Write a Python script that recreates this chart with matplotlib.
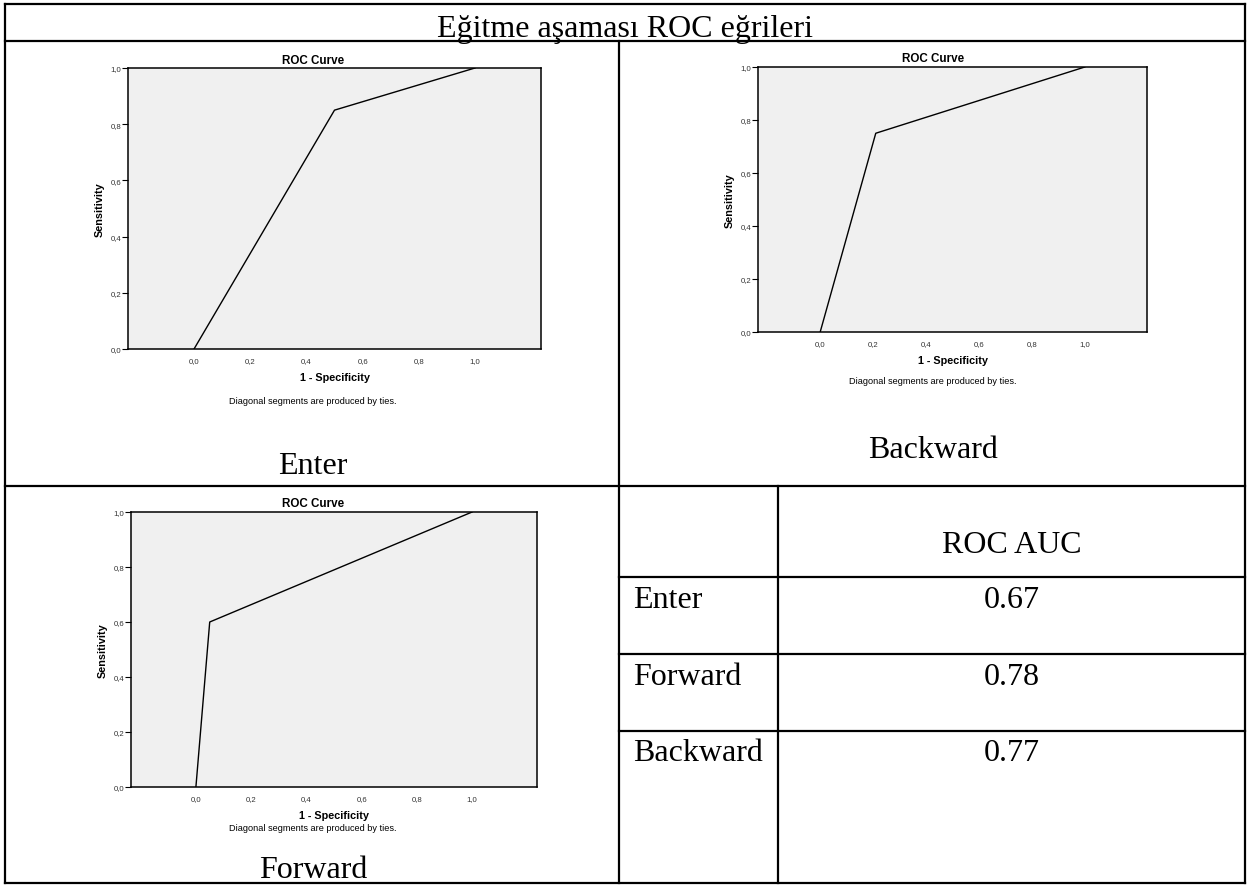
import matplotlib
matplotlib.use("Agg")
import matplotlib.pyplot as plt

# --- data ---
enter_fpr = [0.0, 0.50, 1.0]
enter_tpr = [0.0, 0.85, 1.0]
backward_fpr = [0.0, 0.21, 1.0]
backward_tpr = [0.0, 0.75, 1.0]
forward_fpr = [0.0, 0.05, 1.0]
forward_tpr = [0.0, 0.60, 1.0]

auc_methods = ["Enter", "Forward", "Backward"]
auc_values = [0.67, 0.78, 0.77]

tick_vals = [0.0, 0.2, 0.4, 0.6, 0.8, 1.0]
tick_labels = [f"{v:.1f}".replace(".", ",") for v in tick_vals]

SERIF = "Liberation Serif"
SANS = "Liberation Sans"

# --- figure in pixel units ---
W, H = 1249, 887
fig = plt.figure(figsize=(W / 100, H / 100), dpi=100)


def box(l, t, r, b):
    return [l / W, 1 - b / H, (r - l) / W, (b - t) / H]


bg = fig.add_axes([0, 0, 1, 1], zorder=-1)
bg.set_xlim(0, W)
bg.set_ylim(H, 0)
bg.axis("off")

# table grid
LW = 1.6
L, R, T, B = 5, 1245, 5, 884
XMID, YMID, YHEAD = 619, 487, 42
XIN = 778
grid = [
    ([L, R], [T, T]), ([L, R], [B, B]), ([L, L], [T, B]), ([R, R], [T, B]),
    ([L, R], [YHEAD, YHEAD]), ([XMID, XMID], [YHEAD, B]), ([L, R], [YMID, YMID]),
    ([XIN, XIN], [YMID, B]),
    ([XMID, R], [578, 578]), ([XMID, R], [655, 655]), ([XMID, R], [732, 732]),
]
for xs, ys in grid:
    bg.plot(xs, ys, color="black", lw=LW, solid_capstyle="projecting")

bg.text((L + R) / 2, 37, "Eğitme aşaması ROC eğrileri", family=SERIF,
        fontsize=23, ha="center", va="baseline")


def roc_panel(rect, fpr, tpr, cell_cx, title_y, note_y, caption, cap_y):
    l, t, r, b = rect
    ax = fig.add_axes(box(l, t, r, b))
    ax.set_facecolor("#f0f0f0")
    ax.plot(fpr, tpr, color="black", lw=1.0)
    ax.set_xlim(-0.235, 1.235)
    ax.set_ylim(0, 1)
    ax.set_xticks(tick_vals)
    ax.set_xticklabels(tick_labels)
    ax.set_yticks(tick_vals)
    ax.set_yticklabels(tick_labels)
    for lab in ax.get_xticklabels() + ax.get_yticklabels():
        lab.set_family(SANS)
        lab.set_fontsize(5.6)
        lab.set_color("#333333")
    ax.tick_params(axis="x", length=0, pad=5.5)
    ax.tick_params(axis="y", length=4.3, width=0.8, pad=0.5)
    for s in ax.spines.values():
        s.set_linewidth(1.1)
        s.set_color("black")
    ax.set_xlabel("1 - Specificity", family=SANS, fontsize=7.8,
                  fontweight="bold", va="center")
    ax.xaxis.set_label_coords(0.5, -28 / (b - t))
    ax.set_ylabel("Sensitivity", family=SANS, fontsize=7.8,
                  fontweight="bold", va="center")
    ax.yaxis.set_label_coords(-28 / (r - l), 0.5)

    bg.text(cell_cx, title_y, "ROC Curve", family=SANS, fontsize=8.4,
            fontweight="bold", ha="center", va="center")
    bg.text(cell_cx, note_y, "Diagonal segments are produced by ties.",
            family=SANS, fontsize=6.6, ha="center", va="center")
    bg.text(cell_cx, cap_y, caption, family=SERIF, fontsize=23,
            ha="center", va="baseline")
    return ax


roc_panel((128, 69, 541, 350), enter_fpr, enter_tpr, 313, 61, 402,
          "Enter", 474)
roc_panel((758, 68, 1147, 333), backward_fpr, backward_tpr, 933, 59, 382,
          "Backward", 458)
roc_panel((131, 513, 537, 788), forward_fpr, forward_tpr, 313, 504, 829,
          "Forward", 878)

# AUC table
bg.text((XIN + R) / 2, 553, "ROC AUC", family=SERIF, fontsize=23,
        ha="center", va="baseline")
row_baselines = [608, 685, 761]
for name, val, yb in zip(auc_methods, auc_values, row_baselines):
    bg.text(633, yb, name, family=SERIF, fontsize=23, ha="left", va="baseline")
    bg.text((XIN + R) / 2, yb, f"{val:.2f}", family=SERIF, fontsize=23,
            ha="center", va="baseline")

fig.savefig("out.png", dpi=100)
